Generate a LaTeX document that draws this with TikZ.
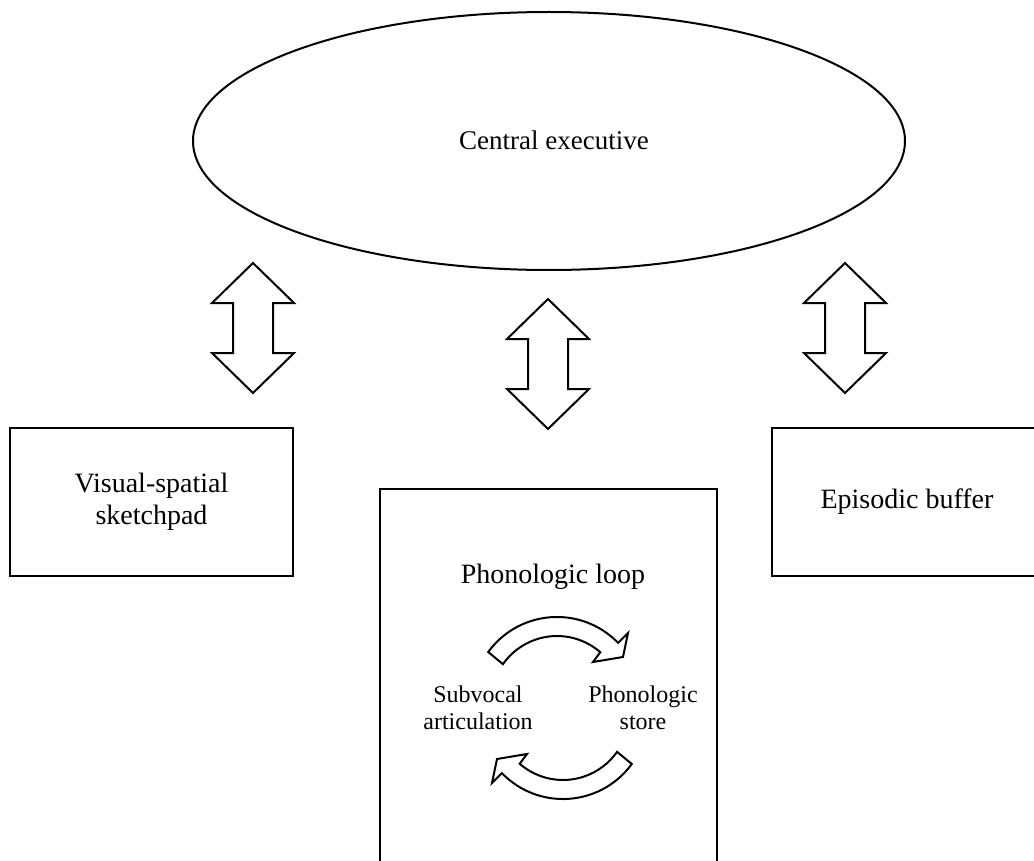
\documentclass[tikz,border=0pt]{standalone}
\usepackage{fontspec}
\setmainfont{Liberation Serif}
\usetikzlibrary{shapes.geometric}
\begin{document}
\begin{tikzpicture}[x=1pt,y=-1pt,
  box/.style={draw,line width=2.7pt,rectangle,inner sep=0pt},
  lbl/.style={font=\fontsize{28}{32}\selectfont,align=center},
  small/.style={font=\fontsize{24}{27}\selectfont,align=center},
  blockarrow/.style={draw,line width=2pt,fill=white,line join=miter},
  dblarrow/.pic={\draw[blockarrow] (0,-65) -- (41,-25) -- (20,-25) -- (20,25) -- (41,25) -- (0,65) -- (-41,25) -- (-20,25) -- (-20,-25) -- (-41,-25) -- cycle;}
]
\useasboundingbox (0,0) rectangle (1034,861);
\clip (0,0) rectangle (1034,861);

% central executive
\node[draw,ellipse,line width=2pt,minimum width=712pt,minimum height=258pt,inner sep=0pt] (ce) at (549,141) {};
\node[font=\fontsize{27}{30}\selectfont] (cetext) at (554,140) {Central executive};

% boxes
\node[box,minimum width=283pt,minimum height=148pt,lbl] (vs) at (151.5,502) {Visual-spatial\\sketchpad};
\node[box,minimum width=270pt,minimum height=148pt,lbl] (eb) at (907,502) {Episodic buffer};
\node[box,minimum width=337pt,minimum height=411pt] (pl) at (548.5,694.5) {};
\node[lbl] (pltitle) at (553,577) {Phonologic loop};
\node[small] (sub) at (478,708) {Subvocal\\articulation};
\node[small] (ps) at (643,708) {Phonologic\\store};

% double block arrows
\pic at (253,328) {dblarrow};
\pic at (548,364) {dblarrow};
\pic at (845,328) {dblarrow};

% curved arrows of the loop
\draw[blockarrow] (488.2,652) arc[start angle=-144,end angle=-44,radius=85]
  -- (628,633) -- (623,657) -- (593,662) -- (600.3,652.2)
  arc[start angle=-49,end angle=-145,radius=66] -- cycle;
\begin{scope}[rotate around={180:(560,708)}]
\draw[blockarrow] (488.2,652) arc[start angle=-144,end angle=-44,radius=85]
  -- (628,633) -- (623,657) -- (593,662) -- (600.3,652.2)
  arc[start angle=-49,end angle=-145,radius=66] -- cycle;
\end{scope}
\end{tikzpicture}
\end{document}
